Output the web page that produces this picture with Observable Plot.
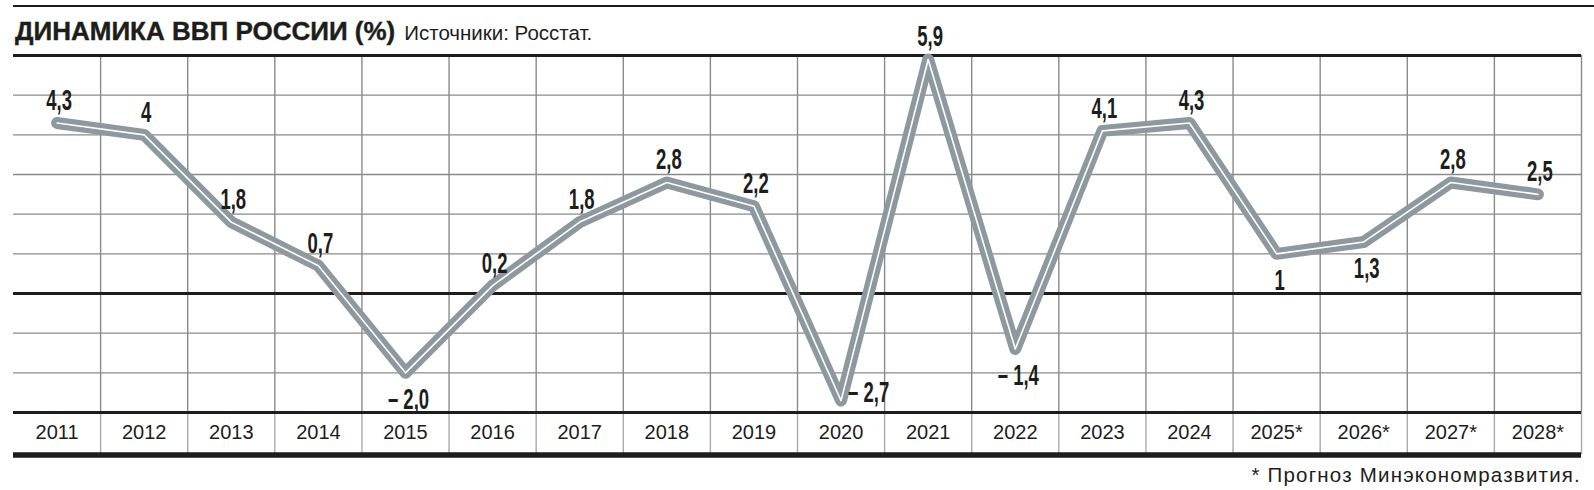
<!DOCTYPE html>
<html><head><meta charset="utf-8">
<script src="https://cdn.jsdelivr.net/npm/d3@7"></script>
<script src="https://cdn.jsdelivr.net/npm/@observablehq/plot@0.6"></script>
<style>
body{margin:0;background:#fff;}
#wrap{position:relative;width:1594px;height:490px;overflow:hidden;font-family:"Liberation Sans",Arial,sans-serif;color:#1d1d1b;}
#chart{position:absolute;left:0;top:0;}
#rule{position:absolute;left:13px;right:0;top:5px;height:2px;background:#1d1d1b;}
#title{position:absolute;left:15px;top:18px;white-space:nowrap;line-height:26px;z-index:2;}
#title b{font-size:26px;font-weight:bold;-webkit-text-stroke:0.4px #1d1d1b;}
#title span{font-size:20.5px;margin-left:9px;}
#note{position:absolute;right:13px;top:465px;font-size:20.5px;line-height:20.5px;letter-spacing:1.2px;white-space:nowrap;}
</style></head><body>
<div id="wrap">
  <div id="chart"></div>
  <div id="rule"></div>
  <div id="title"><b>ДИНАМИКА ВВП РОССИИ (%)</b><span>Источники: Росстат.</span></div>
  <div id="note">* Прогноз Минэкономразвития.</div>
</div>
<script>
// ---- data ----
const years = ["2011","2012","2013","2014","2015","2016","2017","2018","2019","2020","2021","2022","2023","2024","2025*","2026*","2027*","2028*"];
const gdp = [4.3, 4, 1.8, 0.7, -2.0, 0.2, 1.8, 2.8, 2.2, -2.7, 5.9, -1.4, 4.1, 4.3, 1, 1.3, 2.8, 2.5];
const valueLabels = ["4,3","4","1,8","0,7","– 2,0","0,2","1,8","2,8","2,2","– 2,7","5,9","– 1,4","4,1","4,3","1","1,3","2,8","2,5"];
const labelPlacement = ["above","above","above","above","below","above","above","above","above","right","above","below","above","above","below","below","above","above"];
const yGridTicks = [-2, -1, 1, 2, 3, 4, 5];
const yHeavyTicks = [6, 0, -3];
const yDomain = [-3, 6];
const bandY = -4.07; // heavy rule under the year row

// ---- build ----
const idx = d3.range(years.length);
const data = idx.map(i => ({i, value: gdp[i], label: valueLabels[i], place: labelPlacement[i]}));
const colEdges = idx.map(i => i + 0.5);

function measure(font, s) {
  const c = document.createElement("canvas").getContext("2d");
  c.font = font; return c.measureText(s).width;
}
const hasNarrow = measure('bold 30px "Liberation Sans Narrow", monospace', "0000") !== measure("bold 30px monospace", "0000");
const labelFamily = hasNarrow ? '"Liberation Sans Narrow", sans-serif' : '"Liberation Sans", Arial, sans-serif';
const digitW = measure(`bold 30px ${labelFamily}`, "0");
const squeeze = 10.3 / digitW;

const ink = "#1d1d1b";
const grid = "#8a8a8a";
const lineGray = "#8e999f";
const labelStyle = {x: "i", y: "value", text: "label", fontSize: 30, fontWeight: "bold", fontFamily: labelFamily, fill: ink};

const plot = Plot.plot({
  width: 1594, height: 462,
  marginTop: 55, marginBottom: 50, marginLeft: 13, marginRight: 13,
  x: {type: "linear", domain: [-0.5, years.length - 0.5], axis: null},
  y: {domain: yDomain, axis: null},
  style: {fontFamily: '"Liberation Sans", Arial, sans-serif', color: ink, background: "transparent", overflow: "visible"},
  marks: [
    Plot.ruleY(yGridTicks, {stroke: grid, strokeWidth: 1.4}),
    Plot.ruleX(colEdges, {y1: yDomain[0], y2: yDomain[1], stroke: grid, strokeWidth: 1.4}),
    Plot.ruleX(colEdges, {y1: bandY, y2: yDomain[0], stroke: "#aaaaaa", strokeWidth: 1.4}),
    Plot.ruleY(yHeavyTicks, {stroke: ink, strokeWidth: 3}),
    Plot.ruleY([bandY], {stroke: ink, strokeWidth: 5.5}),
    Plot.axisX(idx, {anchor: "bottom", tickSize: 0, tickPadding: 12.5, tickFormat: i => years[i], fontSize: 20, fill: ink, label: null}),
    Plot.line(data, {x: "i", y: "value", stroke: lineGray, strokeWidth: 12, strokeLinejoin: "round", strokeLinecap: "round"}),
    Plot.line(data, {x: "i", y: "value", stroke: "#ffffff", strokeWidth: 1.6}),
    Plot.text(data.filter(d => d.place === "above"), {...labelStyle, lineAnchor: "bottom", dx: 2, dy: -13}),
    Plot.text(data.filter(d => d.place === "below"), {...labelStyle, lineAnchor: "top", dx: 3, dy: 15}),
    Plot.text(data.filter(d => d.place === "right"), {...labelStyle, textAnchor: "start", lineAnchor: "middle", dx: 7, dy: -8})
  ]
});

plot.querySelectorAll("g[font-size='30'] text, g[font-size='30px'] text").forEach(t => {
  const tr = t.getAttribute("transform");
  if (tr) t.setAttribute("transform", `${tr} scale(${squeeze},1)`);
  else {
    const x = +t.getAttribute("x") || 0, y = +t.getAttribute("y") || 0;
    t.removeAttribute("x"); t.removeAttribute("y");
    t.setAttribute("transform", `translate(${x},${y}) scale(${squeeze},1)`);
  }
});
document.getElementById("chart").appendChild(plot);
</script>
</body></html>
